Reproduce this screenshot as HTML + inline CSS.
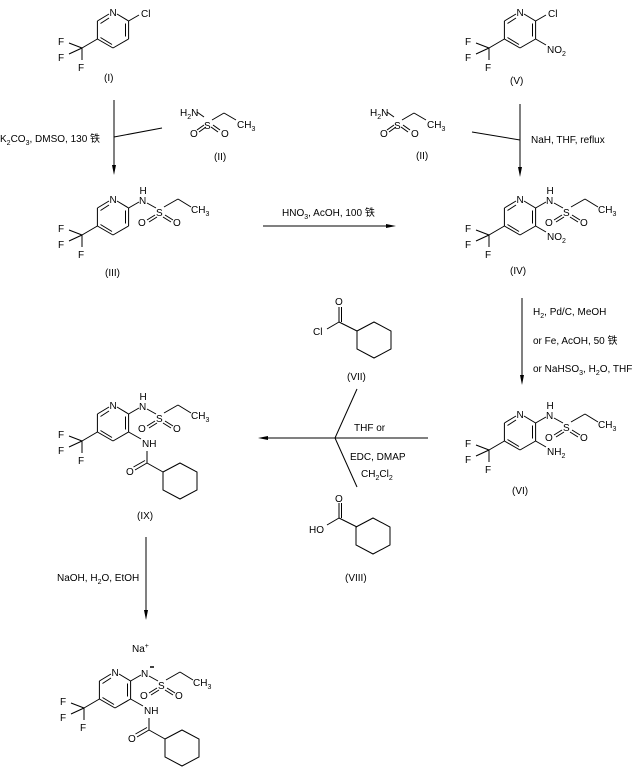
<!DOCTYPE html>
<html><head><meta charset="utf-8"><style>
html,body{margin:0;padding:0;background:#fff;}
svg{display:block;}
text{font-family:"Liberation Sans","Noto Sans CJK SC",sans-serif;font-size:10px;fill:#000;}
.s{font-size:7px;}
line,polyline,polygon{stroke:#000;stroke-width:1;fill:none;}
.ah{fill:#000;stroke:none;}
</style></head><body>
<svg width="634" height="776" viewBox="0 0 634 776" xmlns="http://www.w3.org/2000/svg">
<defs>
<g id="ring">
<line x1="4" y1="-16" x2="15.6" y2="-9"/>
<line x1="15.6" y1="-9" x2="15.6" y2="9"/>
<line x1="12.5" y1="-6.5" x2="12.5" y2="6.5"/>
<line x1="15.6" y1="9" x2="0" y2="18"/>
<line x1="0" y1="18" x2="-15.6" y2="9"/>
<line x1="-1" y1="14.5" x2="-12.5" y2="7.5"/>
<line x1="-15.6" y1="9" x2="-15.6" y2="-9"/>
<line x1="-15.6" y1="-9" x2="-4" y2="-16"/>
<line x1="-12.5" y1="-6.5" x2="-4" y2="-12"/>
<line x1="-15.6" y1="9" x2="-31" y2="18"/>
<line x1="-31" y1="18" x2="-44" y2="13"/>
<line x1="-31" y1="18" x2="-44" y2="24"/>
<line x1="-31" y1="18" x2="-31" y2="30"/>
</g>
<g id="sulf">
<line x1="15.6" y1="-9" x2="26" y2="-15"/>
<line x1="34" y1="-14" x2="43" y2="-9"/>
<line x1="51" y1="-10" x2="65" y2="-18"/>
<line x1="65" y1="-18" x2="78" y2="-10"/>
<line x1="42" y1="-2" x2="34" y2="3"/>
<line x1="44" y1="0" x2="36" y2="5"/>
<line x1="52" y1="-2" x2="60" y2="3"/>
<line x1="50" y1="0" x2="58" y2="5"/>
</g>
<g id="chex">
<polygon points="0,0 17,-9 34,0 34,18 17,27 0,18"/>
</g>
<g id="amide">
<line x1="15.6" y1="9" x2="28" y2="16"/>
<line x1="34" y1="28" x2="34" y2="40"/>
<line x1="34" y1="40" x2="22" y2="47"/>
<line x1="32" y1="37.5" x2="20.5" y2="44"/>
<line x1="34" y1="40" x2="50" y2="49"/>
<use href="#chex" x="50" y="49"/>
</g>
</defs>

<!-- (I) -->
<g transform="translate(113,30)">
<use href="#ring"/>
<line x1="15.6" y1="-9" x2="26" y2="-15"/>
<text x="-3.5" y="-14">N</text>
<text x="28" y="-13">Cl</text>
<text x="-55" y="15">F</text><text x="-55" y="31">F</text><text x="-35" y="41">F</text>
</g>
<text x="104" y="81">(I)</text>

<!-- (V) -->
<g transform="translate(520,30)">
<use href="#ring"/>
<line x1="15.6" y1="-9" x2="26" y2="-15"/>
<line x1="15.6" y1="9" x2="26" y2="15"/>
<text x="-3.5" y="-14">N</text>
<text x="28" y="-13">Cl</text>
<text x="27" y="23">NO<tspan class="s" dy="3">2</tspan></text>
<text x="-55" y="15">F</text><text x="-55" y="31">F</text><text x="-35" y="41">F</text>
</g>
<text x="510" y="84">(V)</text>

<!-- (II) left -->
<g transform="translate(180,0)">
<text x="0" y="116">H<tspan class="s" dy="3">2</tspan><tspan dy="-3">N</tspan></text>
<line x1="17" y1="112" x2="24" y2="117"/>
<text x="24" y="129">S</text>
<line x1="32" y1="120" x2="44" y2="113"/>
<line x1="44" y1="113" x2="56" y2="120"/>
<text x="57" y="128">CH<tspan class="s" dy="3">3</tspan></text>
<line x1="24" y1="125" x2="17" y2="130"/><line x1="26" y1="127" x2="19" y2="132"/>
<line x1="33" y1="125" x2="40" y2="130"/><line x1="31" y1="127" x2="38" y2="132"/>
<text x="10" y="137">O</text><text x="41" y="137">O</text>
</g>
<text x="214" y="160">(II)</text>

<!-- (II) right -->
<g transform="translate(370,0)">
<text x="0" y="116">H<tspan class="s" dy="3">2</tspan><tspan dy="-3">N</tspan></text>
<line x1="17" y1="112" x2="24" y2="117"/>
<text x="24" y="129">S</text>
<line x1="32" y1="120" x2="44" y2="113"/>
<line x1="44" y1="113" x2="56" y2="120"/>
<text x="57" y="128">CH<tspan class="s" dy="3">3</tspan></text>
<line x1="24" y1="125" x2="17" y2="130"/><line x1="26" y1="127" x2="19" y2="132"/>
<line x1="33" y1="125" x2="40" y2="130"/><line x1="31" y1="127" x2="38" y2="132"/>
<text x="10" y="137">O</text><text x="41" y="137">O</text>
</g>
<text x="416" y="159">(II)</text>

<!-- arrow I -> III -->
<line x1="114" y1="100" x2="114" y2="170"/>
<polygon class="ah" points="112,165 116,165 114,175"/>
<line x1="114" y1="137" x2="162" y2="128"/>
<text x="0" y="142">K<tspan class="s" dy="3">2</tspan><tspan dy="-3">CO</tspan><tspan class="s" dy="3">3</tspan><tspan dy="-3">, DMSO, 130 铁</tspan></text>

<!-- arrow V -> IV -->
<line x1="520" y1="104" x2="520" y2="172"/>
<polygon class="ah" points="518,167 522,167 520,177"/>
<line x1="472" y1="132" x2="520" y2="140"/>
<text x="531" y="143">NaH, THF, reflux</text>

<!-- (III) -->
<g transform="translate(113,217)">
<use href="#ring"/><use href="#sulf"/>
<text x="-3.5" y="-14">N</text>
<text x="26" y="-13">N</text><text x="26.5" y="-23">H</text>
<text x="43" y="-1">S</text>
<text x="25" y="9">O</text><text x="60" y="9">O</text>
<text x="78" y="-4">CH<tspan class="s" dy="3">3</tspan></text>
<text x="-55" y="15">F</text><text x="-55" y="31">F</text><text x="-35" y="41">F</text>
</g>
<text x="105" y="276">(III)</text>

<!-- arrow III -> IV -->
<line x1="263" y1="226" x2="390" y2="226"/>
<polygon class="ah" points="386,224 386,228 396,226"/>
<text x="282" y="216">HNO<tspan class="s" dy="3">3</tspan><tspan dy="-3">, AcOH, 100 铁</tspan></text>

<!-- (IV) -->
<g transform="translate(520,217)">
<use href="#ring"/><use href="#sulf"/>
<line x1="15.6" y1="9" x2="26" y2="15"/>
<text x="-3.5" y="-14">N</text>
<text x="26" y="-13">N</text><text x="26.5" y="-23">H</text>
<text x="43" y="-1">S</text>
<text x="25" y="9">O</text><text x="60" y="9">O</text>
<text x="78" y="-4">CH<tspan class="s" dy="3">3</tspan></text>
<text x="27" y="23">NO<tspan class="s" dy="3">2</tspan></text>
<text x="-55" y="15">F</text><text x="-55" y="31">F</text><text x="-35" y="41">F</text>
</g>
<text x="510" y="274">(IV)</text>

<!-- arrow IV -> VI -->
<line x1="522" y1="298" x2="522" y2="380"/>
<polygon class="ah" points="520,375 524,375 522,385"/>
<text x="533" y="315">H<tspan class="s" dy="3">2</tspan><tspan dy="-3">, Pd/C, MeOH</tspan></text>
<text x="533" y="344">or Fe, AcOH, 50 铁</text>
<text x="533" y="372">or NaHSO<tspan class="s" dy="3">3</tspan><tspan dy="-3">, H</tspan><tspan class="s" dy="3">2</tspan><tspan dy="-3">O, THF</tspan></text>

<!-- (VI) -->
<g transform="translate(520,432)">
<use href="#ring"/><use href="#sulf"/>
<line x1="15.6" y1="9" x2="26" y2="15"/>
<text x="-3.5" y="-14">N</text>
<text x="26" y="-13">N</text><text x="26.5" y="-23">H</text>
<text x="43" y="-1">S</text>
<text x="25" y="9">O</text><text x="60" y="9">O</text>
<text x="78" y="-4">CH<tspan class="s" dy="3">3</tspan></text>
<text x="27" y="23">NH<tspan class="s" dy="3">2</tspan></text>
<text x="-55" y="15">F</text><text x="-55" y="31">F</text><text x="-35" y="41">F</text>
</g>
<text x="512" y="494">(VI)</text>

<!-- (VII) -->
<line x1="339" y1="322" x2="339" y2="307"/><line x1="341.5" y1="322" x2="341.5" y2="307"/>
<text x="335" y="305">O</text>
<line x1="339" y1="322" x2="327" y2="329"/>
<text x="313" y="335">Cl</text>
<line x1="339" y1="322" x2="357" y2="331"/>
<use href="#chex" x="357" y="331"/>
<text x="347" y="380">(VII)</text>

<!-- (VIII) -->
<line x1="339" y1="518" x2="339" y2="503"/><line x1="341.5" y1="518" x2="341.5" y2="503"/>
<text x="335" y="502">O</text>
<line x1="339" y1="518" x2="327" y2="525"/>
<text x="309" y="533">HO</text>
<line x1="339" y1="518" x2="357" y2="527"/>
<use href="#chex" x="356" y="527"/>
<text x="345" y="581">(VIII)</text>

<!-- arrow VI -> IX -->
<line x1="428" y1="438" x2="262" y2="438"/>
<polygon class="ah" points="268,436 268,440 258,438"/>
<line x1="335" y1="438" x2="357" y2="389"/>
<line x1="335" y1="438" x2="357" y2="487"/>
<text x="354" y="431">THF or</text>
<text x="350" y="460">EDC, DMAP</text>
<text x="361" y="477">CH<tspan class="s" dy="3">2</tspan><tspan dy="-3">Cl</tspan><tspan class="s" dy="3">2</tspan></text>

<!-- (IX) -->
<g transform="translate(113,423)">
<use href="#ring"/><use href="#sulf"/><use href="#amide"/>
<text x="-3.5" y="-14">N</text>
<text x="26" y="-13">N</text><text x="26.5" y="-23">H</text>
<text x="43" y="-1">S</text>
<text x="25" y="9">O</text><text x="60" y="9">O</text>
<text x="78" y="-4">CH<tspan class="s" dy="3">3</tspan></text>
<text x="29" y="24">NH</text>
<text x="13" y="52">O</text>
<text x="-55" y="15">F</text><text x="-55" y="31">F</text><text x="-35" y="41">F</text>
</g>
<text x="137" y="519">(IX)</text>

<!-- arrow IX -> final -->
<line x1="146" y1="537" x2="146" y2="615"/>
<polygon class="ah" points="144,610 148,610 146,620"/>
<text x="57" y="581">NaOH, H<tspan class="s" dy="3">2</tspan><tspan dy="-3">O, EtOH</tspan></text>

<!-- final -->
<text x="132" y="652">Na<tspan class="s" dy="-4">+</tspan></text>
<g transform="translate(115,690)">
<use href="#ring"/><use href="#sulf"/><use href="#amide"/>
<text x="-3.5" y="-14">N</text>
<text x="26" y="-13">N</text>
<line x1="35" y1="-23" x2="39" y2="-23" style="stroke-width:1.5"/>
<text x="43" y="-1">S</text>
<text x="25" y="9">O</text><text x="60" y="9">O</text>
<text x="78" y="-4">CH<tspan class="s" dy="3">3</tspan></text>
<text x="29" y="24">NH</text>
<text x="13" y="52">O</text>
<text x="-55" y="15">F</text><text x="-55" y="31">F</text><text x="-35" y="41">F</text>
</g>
</svg>
</body></html>
